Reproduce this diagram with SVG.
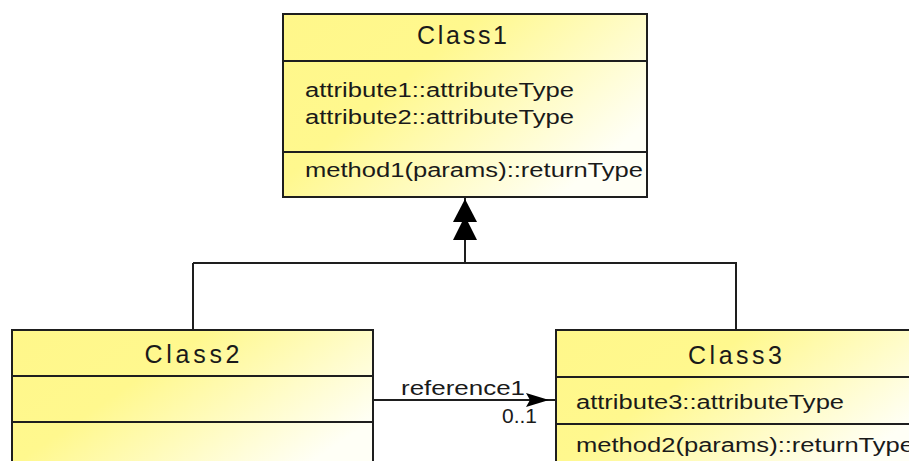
<svg xmlns="http://www.w3.org/2000/svg" width="909" height="461" viewBox="0 0 909 461">
<style>
.box{stroke:#1e1e1e;stroke-width:2;fill:url(#g)}
.div{stroke:#1e1e1e;stroke-width:2}
.t{font-family:"Liberation Sans",Arial,sans-serif;fill:#1a1a1a}
.title{font-size:25px;text-anchor:middle}
.m{font-size:19.5px}
.ln{stroke:#1e1e1e;stroke-width:2;fill:none}
</style>
<defs>
<linearGradient id="g" x1="0" y1="0" x2="1" y2="0.6">
<stop offset="0" stop-color="#fff78a"/>
<stop offset="0.4" stop-color="#fff88e"/>
<stop offset="1" stop-color="#fffff6"/>
</linearGradient>
</defs>
<rect width="909" height="461" fill="#ffffff"/>
<g id="connectors">
<path class="ln" d="M465 197 V263 M193 263 H737 M193 263 V330 M736 263 V330"/>
<polygon points="465,199 477,222 453,222" fill="#000"/>
<polygon points="465,216 477,240 453,240" fill="#000"/>
<path class="ln" d="M373 400 H556"/>
<polygon points="526,393 549,400 526,407 530,400" fill="#000"/>
<text class="t m" x="401" y="395" textLength="124" lengthAdjust="spacingAndGlyphs">reference1</text>
<text class="t m" x="502" y="423" textLength="35" lengthAdjust="spacingAndGlyphs">0..1</text>
</g>
<g id="Class1">
<rect class="box" x="283" y="14" width="364" height="183"/>
<line class="div" x1="283" y1="61" x2="647" y2="61"/>
<line class="div" x1="283" y1="152" x2="647" y2="152"/>
<text class="t title" x="462" y="44" textLength="90" lengthAdjust="spacing">Class1</text>
<text class="t m" x="305" y="97" textLength="269" lengthAdjust="spacingAndGlyphs">attribute1::attributeType</text>
<text class="t m" x="305" y="124" textLength="269" lengthAdjust="spacingAndGlyphs">attribute2::attributeType</text>
<text class="t m" x="305" y="177" textLength="338" lengthAdjust="spacingAndGlyphs">method1(params)::returnType</text>
</g>
<g id="Class2">
<rect class="box" x="12" y="330" width="361" height="150"/>
<line class="div" x1="12" y1="376" x2="373" y2="376"/>
<line class="div" x1="12" y1="422" x2="373" y2="422"/>
<text class="t title" x="192" y="363" textLength="95" lengthAdjust="spacing">Class2</text>
</g>
<g id="Class3">
<rect class="box" x="556" y="330" width="358" height="150"/>
<line class="div" x1="556" y1="377" x2="914" y2="377"/>
<line class="div" x1="556" y1="424" x2="914" y2="424"/>
<text class="t title" x="735" y="364" textLength="94" lengthAdjust="spacing">Class3</text>
<text class="t m" x="576" y="409" textLength="268" lengthAdjust="spacingAndGlyphs">attribute3::attributeType</text>
<text class="t m" x="576" y="452" textLength="338" lengthAdjust="spacingAndGlyphs">method2(params)::returnType</text>
</g>
</svg>
